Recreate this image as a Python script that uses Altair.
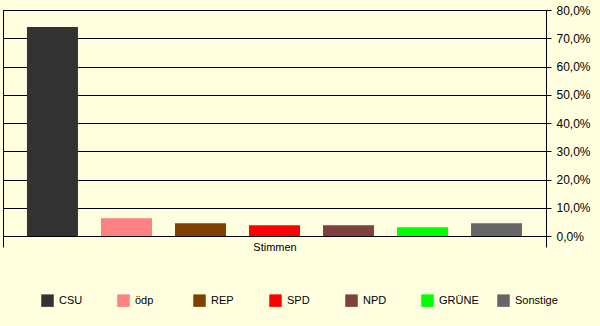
import altair as alt
import pandas as pd

parties = ["CSU", "ödp", "REP", "SPD", "NPD", "GRÜNE", "Sonstige"]
values = [74.0, 6.3, 4.5, 3.8, 3.8, 3.1, 4.5]
colors = ["#333333", "#FF8080", "#804000", "#FF0000", "#804040", "#00FF00", "#666666"]
category = "Stimmen"
y_ticks = [0, 10, 20, 30, 40, 50, 60, 70, 80]

df = pd.DataFrame({"Kategorie": [category] * len(parties), "Partei": parties, "Wert": values})

FONT = "Liberation Sans"

chart = alt.Chart(df).mark_bar().encode(
    x=alt.X("Kategorie:N",
            scale=alt.Scale(paddingInner=0, paddingOuter=0),
            axis=alt.Axis(title=None, labelAngle=0, tickBand="extent", tickSize=11,
                          tickColor="black", domainColor="black", labelColor="black",
                          labelFont=FONT, labelFontSize=11, labelPadding=-6)),
    xOffset=alt.XOffset("Partei:N", sort=parties,
                        scale=alt.Scale(domain=parties, paddingInner=0.311, paddingOuter=0.324)),
    y=alt.Y("Wert:Q",
            scale=alt.Scale(domain=[0, 80], nice=False),
            axis=alt.Axis(orient="right", title=None, values=y_ticks,
                          labelExpr="replace(format(datum.value, '.1f'), '.', ',') + '%'",
                          grid=True, gridColor="black", gridWidth=1, gridOpacity=1,
                          domainColor="black", tickColor="black", tickSize=5,
                          labelColor="black", labelFont=FONT, labelFontSize=12, labelPadding=5)),
    color=alt.Color("Partei:N", sort=parties,
                    scale=alt.Scale(domain=parties, range=colors),
                    legend=alt.Legend(title=None, orient="none", legendX=38, legendY=284,
                                      direction="horizontal", columns=7, gridAlign="all",
                                      symbolType="square", symbolSize=156, symbolStrokeWidth=0,
                                      symbolOpacity=1, labelFont=FONT, labelFontSize=11,
                                      labelColor="black", labelOffset=5, columnPadding=15,
                                      padding=0)),
).properties(
    width=543, height=226,
    background="#FFFFE0",
    padding={"left": 3, "top": 10, "right": 54, "bottom": 90},
    autosize=alt.AutoSizeParams(type="none"),
).configure_view(stroke="black", strokeWidth=1)

chart.save("out.html", embed_options={"renderer": "svg", "actions": False})
